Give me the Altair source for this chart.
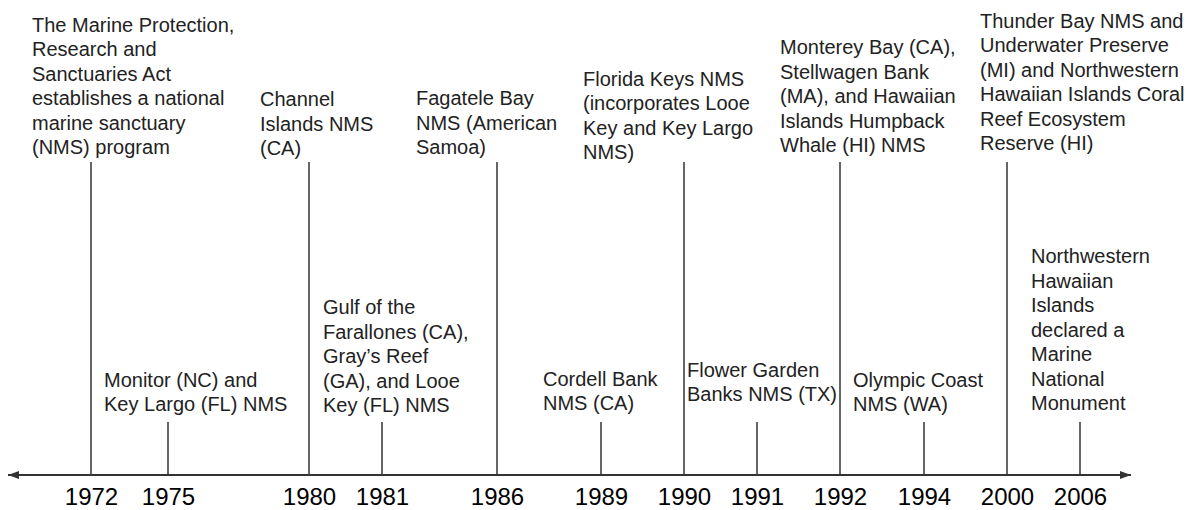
import altair as alt
import pandas as pd

# ---- data -------------------------------------------------------------
years = [1972, 1975, 1980, 1981, 1986, 1989, 1990, 1991, 1992, 1994, 2000, 2006]
sides = ["top", "bottom", "top", "bottom", "top", "bottom",
         "top", "bottom", "top", "bottom", "top", "bottom"]
events = [
    "The Marine Protection,\nResearch and\nSanctuaries Act\nestablishes a national\nmarine sanctuary\n(NMS) program",
    "Monitor (NC) and\nKey Largo (FL) NMS",
    "Channel\nIslands NMS\n(CA)",
    "Gulf of the\nFarallones (CA),\nGray\u2019s Reef\n(GA), and Looe\nKey (FL) NMS",
    "Fagatele Bay\nNMS (American\nSamoa)",
    "Cordell Bank\nNMS (CA)",
    "Florida Keys NMS\n(incorporates Looe\nKey and Key Largo\nNMS)",
    "Flower Garden\nBanks NMS (TX)",
    "Monterey Bay (CA),\nStellwagen Bank\n(MA), and Hawaiian\nIslands Humpback\nWhale (HI) NMS",
    "Olympic Coast\nNMS (WA)",
    "Thunder Bay NMS and\nUnderwater Preserve\n(MI) and Northwestern\nHawaiian Islands Coral\nReef Ecosystem\nReserve (HI)",
    "Northwestern\nHawaiian\nIslands\ndeclared a\nMarine\nNational\nMonument",
]

df = pd.DataFrame({"year": years, "side": sides, "event": events})

# ---- layout / style -----------------------------------------------------
W, H = 1123, 467
LH = 24.5
tick_range = [83, 160, 301, 374, 489, 593, 676, 749, 832, 916, 999, 1072]
label_dx = [-59, -64, -49, -59, -81, -58, -101, -70, -60, -71, -27, -49]
# baseline of the last text line, relative to the top of its stem
last_line_dy = [-8, -11, -7, -10, -8, -12, -3, -21, -10, -11, -12, -12]
LINE = "#333333"
FONT = "Liberation Sans"

x_enc = alt.X(
    "year:Q",
    scale=alt.Scale(domain=years, range=tick_range, nice=False, zero=False),
    axis=alt.Axis(values=years, format="d", labelFontSize=24, labelFont=FONT,
                  labelColor="#000000", domain=False, ticks=False, tickSize=0,
                  grid=False, labelPadding=10, title=None, labelFlush=False,
                  labelOverlap=False),
)
y_enc = alt.Y(
    "side:N",
    scale=alt.Scale(type="point", domain=["top", "bottom"], range=[154, 414], padding=0),
    axis=None,
)

base = alt.Chart(df)

stems = base.mark_rule(color=LINE, strokeWidth=1.5).encode(
    x=x_enc, y=y_enc, y2=alt.value("height")
)

one = alt.Chart(pd.DataFrame({"k": [0]}))
timeline = one.mark_rule(color=LINE, strokeWidth=2).encode(
    x=alt.value(0), x2=alt.value("width"), y=alt.value("height")
)
arrow_left = one.mark_point(
    shape="M0,0L2.2,-0.8L2.2,0.8Z", filled=True, size=100, color=LINE, opacity=1
).encode(x=alt.value(0), y=alt.value("height"))
arrow_right = one.mark_point(
    shape="M0,0L-2.2,-0.8L-2.2,0.8Z", filled=True, size=100, color=LINE, opacity=1
).encode(x=alt.value("width"), y=alt.value("height"))

labels = []
for i, yr in enumerate(years):
    n_lines = events[i].count("\n") + 1
    labels.append(
        base.transform_filter(alt.datum.year == yr)
        .transform_calculate(lines="split(datum.event, '\\n')")
        .mark_text(align="left", baseline="alphabetic", dx=label_dx[i],
                   dy=last_line_dy[i] - (n_lines - 1) * LH,
                   fontSize=20, font=FONT, lineHeight=LH, color="#222222")
        .encode(x=x_enc, y=y_enc, text="lines:N")
    )

chart = alt.layer(stems, timeline, arrow_left, arrow_right, *labels).properties(
    width=W, height=H, autosize="none",
    padding={"left": 0, "right": 57, "top": 0, "bottom": 33},
).configure_view(strokeWidth=0)

chart.save("out.html", embed_options={"renderer": "svg", "actions": False})
